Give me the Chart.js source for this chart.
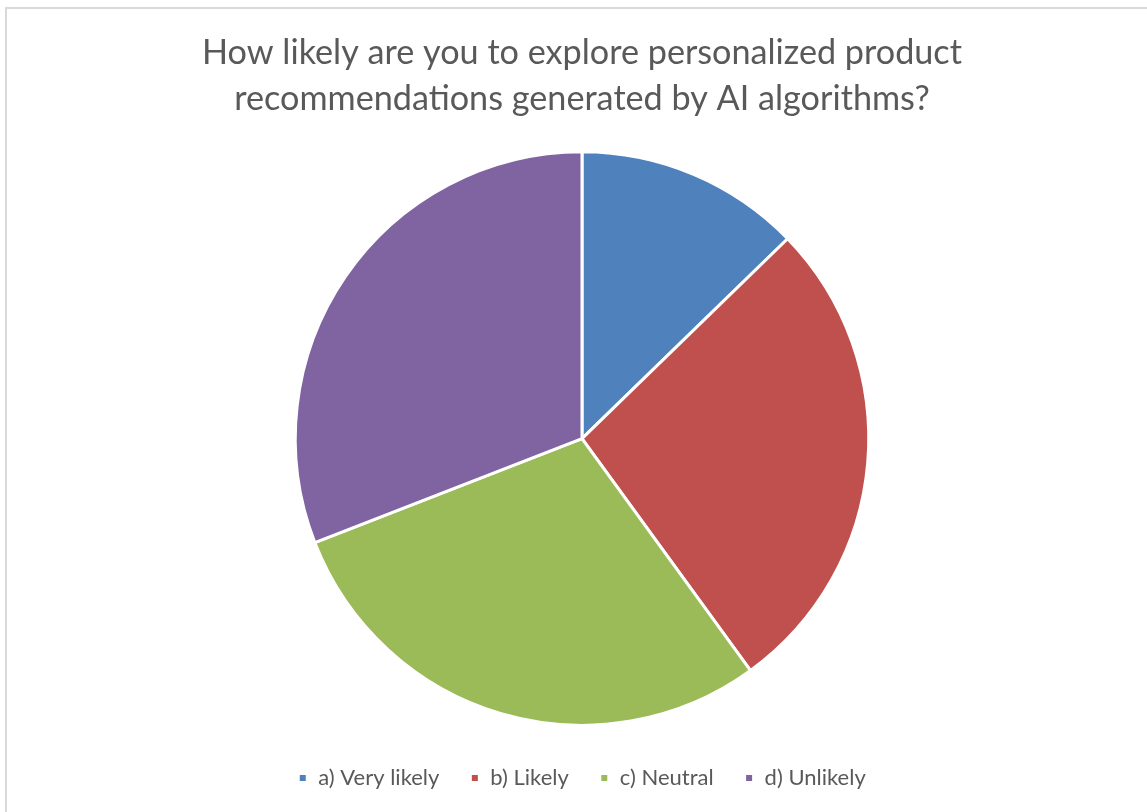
<!DOCTYPE html>
<html>
<head>
<meta charset="utf-8">
<script src="https://cdn.jsdelivr.net/npm/chart.js@4.4.1/dist/chart.umd.min.js"></script>
<style>
  html, body { margin: 0; padding: 0; background: #fff; overflow: hidden; }
  #frame {
    position: absolute;
    left: 5px; top: 7px;
    width: 1220px; height: 840px;
    border: 2px solid #d9d9d9;
    box-sizing: border-box;
  }
  #wrap { position: absolute; left: 0; top: 0; width: 1150px; height: 803px; }
</style>
</head>
<body>
<div id="frame">
  <div id="wrap"><canvas id="pieChart"></canvas></div>
</div>
<script>
// survey answers
const titleLines = ["How likely are you to explore personalized product", "recommendations generated by AI algorithms?"];
const answers = ["a) Very likely", "b) Likely", "c) Neutral", "d) Unlikely"];
const counts = [7, 15, 16, 17];
const sliceColors = ["#4F81BD", "#C0504D", "#9BBB59", "#8064A2"];

const ctx = document.getElementById("pieChart").getContext("2d");
const pieChart = new Chart(ctx, {
    type: "pie",
    data: {
        labels: answers,
        datasets: [{
            data: counts,
            backgroundColor: sliceColors,
            borderColor: "#ffffff",
            borderWidth: 3
        }]
    },
    options: {
        responsive: true,
        maintainAspectRatio: false,
        animation: false,
        layout: { padding: { top: 0, bottom: 13 } },
        plugins: {
            title: {
                display: true,
                text: titleLines,
                color: "#595959",
                font: { family: "Lato", size: 34.2, weight: "normal", lineHeight: 1.35 },
                padding: { top: 21, bottom: 28 }
            },
            legend: {
                position: "bottom",
                // empty title just adds a little gap above the legend row
                title: { display: true, text: "", padding: 4, font: { size: 1 } },
                labels: {
                    color: "#595959",
                    font: { family: "Lato", size: 22 },
                    boxWidth: 9,
                    boxHeight: 9,
                    padding: 31
                }
            },
            tooltip: { enabled: false }
        }
    }
});
</script>
</body>
</html>
